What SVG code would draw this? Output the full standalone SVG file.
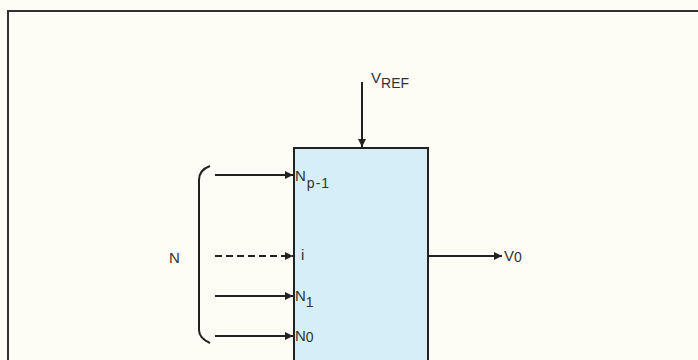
<svg xmlns="http://www.w3.org/2000/svg" width="698" height="360" viewBox="0 0 698 360">
<defs>
<marker id="ah" viewBox="0 0 10 10" refX="10" refY="5" markerWidth="10" markerHeight="8" markerUnits="userSpaceOnUse" orient="auto">
<path d="M0,0 L10,5 L0,10 Z" fill="#222"/>
</marker>
<style>
.ln{stroke:#222;stroke-width:2;fill:none}
.t{font-family:"Liberation Sans",Arial,sans-serif;fill:#333;font-size:15px}
.s{font-size:14px}
</style>
</defs>
<rect width="698" height="360" fill="#fdfdf6"/>
<path d="M8,360 V11 H698" stroke="#333" stroke-width="2" fill="none"/>
<g id="dac">
<rect x="294" y="148" width="134" height="214" fill="#d6eef8" stroke="#222" stroke-width="2"/>
<text class="t" x="295" y="181">N<tspan class="s" dx="1" dy="7" letter-spacing="1">p-1</tspan></text>
<text class="t" x="301" y="260">i</text>
<text class="t" x="295" y="301">N<tspan class="s" dy="6">1</tspan></text>
<text class="t" x="295" y="341">N<tspan class="s" dy="1">0</tspan></text>
</g>
<g id="vref"><text class="t" x="371" y="83">V<tspan class="s" dy="5">REF</tspan></text></g>
<g id="vo"><text class="t" x="504" y="261">V<tspan class="s" dy="1">0</tspan></text></g>
<g id="n-bus">
<path class="ln" d="M210,166 Q199,170 199,180 V330 Q199,338 210,343" stroke-width="1.8"/>
<text class="t" x="169" y="263">N</text>
</g>
<g id="connectors">
<line class="ln" x1="362" y1="82" x2="362" y2="147" marker-end="url(#ah)"/>
<line class="ln" x1="215" y1="175" x2="293" y2="175" marker-end="url(#ah)"/>
<line class="ln" x1="215" y1="256" x2="293" y2="256" stroke-dasharray="7,4" marker-end="url(#ah)"/>
<line class="ln" x1="215" y1="296" x2="293" y2="296" marker-end="url(#ah)"/>
<line class="ln" x1="215" y1="336" x2="293" y2="336" marker-end="url(#ah)"/>
<line class="ln" x1="429" y1="256" x2="502" y2="256" marker-end="url(#ah)"/>
</g>
</svg>
